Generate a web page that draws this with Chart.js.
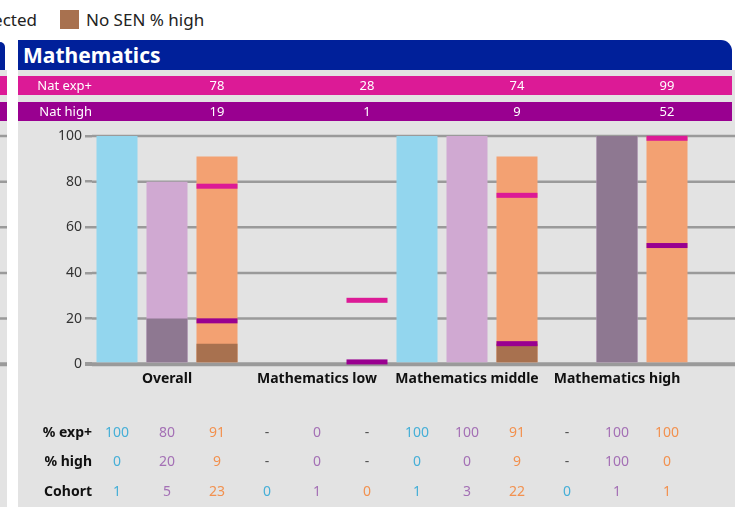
<!DOCTYPE html>
<html>
<head>
<meta charset="utf-8">
<script src="https://cdn.jsdelivr.net/npm/chart.js@4.4.1/dist/chart.umd.min.js"></script>
<style>
  body { margin: 0; width: 735px; height: 507px; overflow: hidden; background: #fff; position: relative; font-family: "Noto Sans", sans-serif; }
  .leg { position: absolute; top: 8px; display: flex; align-items: center; white-space: nowrap; font-size: 17px; color: #222; }
  .leg i { display: inline-block; width: 19px; height: 19px; margin-right: 7px; }
  #stripeHead { position: absolute; left: 0; top: 42px; width: 5px; height: 28px; background: #00209a; border-top-right-radius: 6px; }
  #head { position: absolute; left: 18px; top: 40px; width: 709px; height: 30px; padding-left: 5px; background: #00209a; border-top-right-radius: 11px;
          color: #fff; font-weight: bold; font-size: 21px; line-height: 30px; }
  #wrap { position: absolute; left: 0; top: 70px; width: 735px; height: 437px; }
</style>
</head>
<body>
<div class="leg" style="right: 698px;"><i style="background:#f3a172"></i>No SEN % expected</div>
<div class="leg" style="left: 60px;"><i style="background:#a8714f"></i>No SEN % high</div>
<div id="stripeHead"></div>
<div id="head">Mathematics</div>
<div id="wrap"><canvas id="myChart"></canvas></div>
<script>
const categories = ['Overall', 'Mathematics low', 'Mathematics middle', 'Mathematics high'];

// column 1 (light blue)
const senExp = [100, null, 100, null];
const senHigh = [0, null, 0, null];
const senCohort = [1, 0, 1, 0];
// column 2 (lilac)
const ehcpExp = [80, 0, 100, 100];
const ehcpHigh = [20, 0, 0, 100];
const ehcpCohort = [5, 1, 3, 1];
// column 3 (orange)
const noSenExp = [91, null, 91, 100];
const noSenHigh = [9, null, 9, 0];
const noSenCohort = [23, 0, 22, 1];

// national figures
const natExp = [78, 28, 74, 99];
const natHigh = [19, 1, 9, 52];

const yTicks = [0, 20, 40, 60, 80, 100];

const textColors = ['#46afd7', '#a470b5', '#f2914f'];
const PINK = '#dc1a96', PURPLE = '#990090', GRID = '#9a9a9a', PANEL = '#e3e3e3';

// backgrounds, nat bands and grid lines
const panelPlugin = {
    id: 'panel',
    beforeDatasetsDraw(chart) {
        const ctx = chart.ctx, area = chart.chartArea, y = chart.scales.y;
        const W = chart.width, H = chart.height;
        ctx.save();
        // nat bands
        ctx.fillStyle = PINK;
        ctx.fillRect(0, 6, 7, 19);
        ctx.fillRect(18, 6, 714, 19);
        ctx.fillStyle = PURPLE;
        ctx.fillRect(0, 32, 7, 19);
        ctx.fillRect(18, 32, 714, 19);
        ctx.font = '13px "Noto Sans"';
        ctx.fillStyle = '#fff';
        ctx.textAlign = 'right';
        ctx.textBaseline = 'middle';
        ctx.fillText('Nat exp+', area.left, 16);
        ctx.fillText('Nat high', area.left, 42);
        // grid lines
        ctx.strokeStyle = GRID;
        yTicks.forEach(v => {
            const py = y.getPixelForValue(v);
            ctx.lineWidth = v === 0 ? 4 : 2.5;
            ctx.beginPath();
            ctx.moveTo(area.left, py); ctx.lineTo(W, py);
            ctx.moveTo(0, py); ctx.lineTo(7, py);
            ctx.stroke();
        });
        ctx.restore();
    },
    afterDatasetsDraw(chart) {
        const ctx = chart.ctx, area = chart.chartArea, y = chart.scales.y;
        const cols = [chart.getDatasetMeta(3), chart.getDatasetMeta(4), chart.getDatasetMeta(5)];
        const exps = [senExp, ehcpExp, noSenExp];
        const highs = [senHigh, ehcpHigh, noSenHigh];
        const cohorts = [senCohort, ehcpCohort, noSenCohort];
        ctx.save();
        // national markers on the No SEN column
        categories.forEach((c, i) => {
            const bar = cols[2].data[i];
            const left = bar.x - bar.width / 2;
            ctx.fillStyle = PINK;
            ctx.fillRect(left, y.getPixelForValue(natExp[i]) - 2.5, bar.width, 5);
            ctx.fillStyle = PURPLE;
            ctx.fillRect(left, y.getPixelForValue(natHigh[i]) - 2.5, bar.width, 5);
            ctx.font = '13px "Noto Sans"';
            ctx.fillStyle = '#fff';
            ctx.textAlign = 'center';
            ctx.textBaseline = 'middle';
            ctx.fillText(String(natExp[i]), bar.x, 16);
            ctx.fillText(String(natHigh[i]), bar.x, 42);
        });
        // table under the chart
        const rows = [['% exp+', exps], ['% high', highs], ['Cohort', cohorts]];
        const rowY = [area.bottom + 69, area.bottom + 98, area.bottom + 128];
        ctx.textBaseline = 'middle';
        rows.forEach((r, k) => {
            ctx.font = 'bold 14px "Noto Sans"';
            ctx.fillStyle = '#111';
            ctx.textAlign = 'right';
            ctx.fillText(r[0], area.left, rowY[k]);
            ctx.font = '14px "Noto Sans"';
            ctx.textAlign = 'center';
            cols.forEach((meta, j) => {
                meta.data.forEach((bar, i) => {
                    const v = r[1][j][i];
                    ctx.fillStyle = v === null ? '#555' : textColors[j];
                    ctx.fillText(v === null ? '-' : String(v), bar.x, rowY[k]);
                });
            });
        });
        ctx.restore();
    }
};

// panel background behind everything
const bgPlugin = {
    id: 'bg',
    beforeDraw(chart) {
        const ctx = chart.ctx;
        ctx.save();
        ctx.fillStyle = PANEL;
        ctx.fillRect(0, 0, 7, chart.height);
        ctx.fillRect(18, 0, chart.width - 18, chart.height);
        ctx.restore();
    }
};

const bar = (label, data, color, stack) => ({
    label, data, backgroundColor: color, stack,
    barPercentage: 0.82, categoryPercentage: 1, borderWidth: 0
});

new Chart(document.getElementById('myChart'), {
    type: 'bar',
    data: {
        labels: categories,
        datasets: [
            // high values first so they are drawn over the expected bars
            bar('SEN % high', senHigh, '#8e7891', 'a'),
            bar('EHCP % high', ehcpHigh, '#8e7891', 'b'),
            bar('No SEN % high', noSenHigh, '#a8714f', 'c'),
            bar('SEN % expected', senExp, '#93d6ee', 'a'),
            bar('EHCP % expected', ehcpExp, '#d0a9d2', 'b'),
            bar('No SEN % expected', noSenExp, '#f3a172', 'c')
        ]
    },
    options: {
        responsive: true,
        maintainAspectRatio: false,
        animation: false,
        layout: { padding: { top: 66, right: 43, left: 0, bottom: 114 } },
        plugins: { legend: { display: false }, tooltip: { enabled: false } },
        scales: {
            x: {
                stacked: true,
                grid: { display: false, drawTicks: false },
                border: { display: false },
                ticks: { padding: 6, color: '#111', font: { family: 'Noto Sans', size: 14, weight: 'bold' } }
            },
            y: {
                stacked: false,
                min: 0, max: 100,
                afterFit: s => { s.width = 92; },
                grid: { drawOnChartArea: false, tickLength: 7, color: GRID, lineWidth: c => c.tick.value === 0 ? 4 : 2.5 },
                border: { display: false },
                ticks: { stepSize: 20, padding: 3, color: '#333', font: { family: 'Noto Sans', size: 14 } }
            }
        }
    },
    plugins: [bgPlugin, panelPlugin]
});
</script>
</body>
</html>
